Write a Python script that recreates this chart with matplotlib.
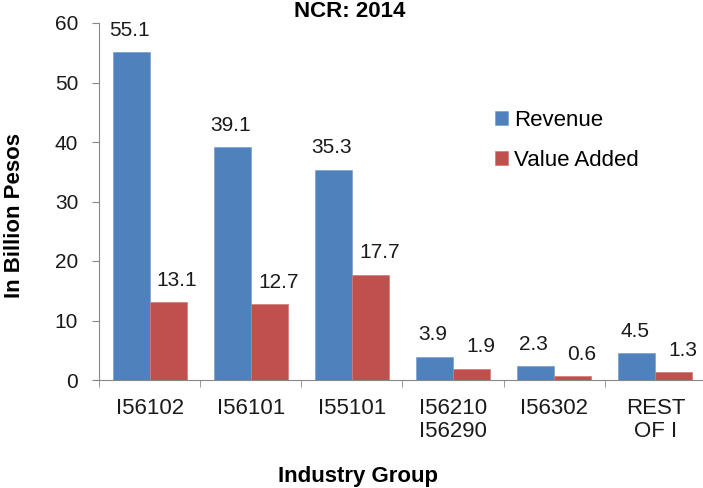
import matplotlib
matplotlib.use("Agg")
import matplotlib.pyplot as plt
import numpy as np

plt.rcParams['font.family'] = ['Liberation Sans', 'DejaVu Sans']

# chart data
groups = ["I56102", "I56101", "I55101", "I56210\nI56290", "I56302", "REST\nOF I"]
revenue = [55.1, 39.1, 35.3, 3.9, 2.3, 4.5]
value_added = [13.1, 12.7, 17.7, 1.9, 0.6, 1.3]

blue = "#4F81BD"
red = "#C0504D"
txt = "#1a1a1a"

W, H = 703, 488
fig = plt.figure(figsize=(W / 100, H / 100), dpi=100)
ax = fig.add_axes([99 / W, 1 - 380 / H, 607 / W, 357 / H])

x = np.arange(len(groups))
w = 0.365
b1 = ax.bar(x - w / 2, revenue, w, color=blue, edgecolor="#7BA0CD", linewidth=0.5, label="Revenue")
b2 = ax.bar(x + w / 2, value_added, w, color=red, edgecolor="#D07A78", linewidth=0.5, label="Value Added")

# value labels
for rect, v in zip(b1, revenue):
    ax.annotate(f"{v}", (rect.get_x() + rect.get_width() / 2, v), xytext=(-1.5, 9),
                textcoords="offset points", ha="center", va="bottom", fontsize=15, color=txt)
for rect, v in zip(b2, value_added):
    ax.annotate(f"{v}", (rect.get_x() + rect.get_width() / 2, v), xytext=(6.5, 9),
                textcoords="offset points", ha="center", va="bottom", fontsize=15, color=txt,
                annotation_clip=False)

ax.set_xlim(-0.5, len(groups) - 0.5)
ax.set_ylim(0, 60)
ax.set_yticks(np.arange(0, 61, 10))
ax.set_xticks(x)
ax.set_xticklabels(groups, fontsize=16, color=txt, linespacing=1.15)
ax.set_xticks(np.arange(-0.5, len(groups) - 0.4, 1), minor=True)
ax.tick_params(axis="x", which="major", length=0, pad=13)
ax.tick_params(axis="x", which="minor", length=5, color="#888888")
ax.tick_params(axis="y", length=5, color="#888888", labelsize=15, labelcolor=txt, pad=10)

for s in ["top", "right"]:
    ax.spines[s].set_visible(False)
for s in ["left", "bottom"]:
    ax.spines[s].set_color("#888888")

fig.text(15 / W, 1 - 216 / H, "In Billion Pesos", fontsize=16, fontweight="bold",
         rotation=90, ha="center", va="center")
fig.text(358 / W, 1 - 482 / H, "Industry Group", fontsize=16, fontweight="bold",
         ha="center", va="baseline")
fig.text(350 / W, 1 - 17 / H, "NCR: 2014", fontsize=16, fontweight="bold",
         ha="center", va="baseline")

ax.legend(loc="upper left", bbox_to_anchor=(495 / W, 1 - 110 / H), bbox_transform=fig.transFigure,
          frameon=False, fontsize=16, borderpad=0, borderaxespad=0,
          handlelength=0.6, handleheight=0.6, handletextpad=0.25, labelspacing=0.85)

fig.savefig("out.png", dpi=100)
